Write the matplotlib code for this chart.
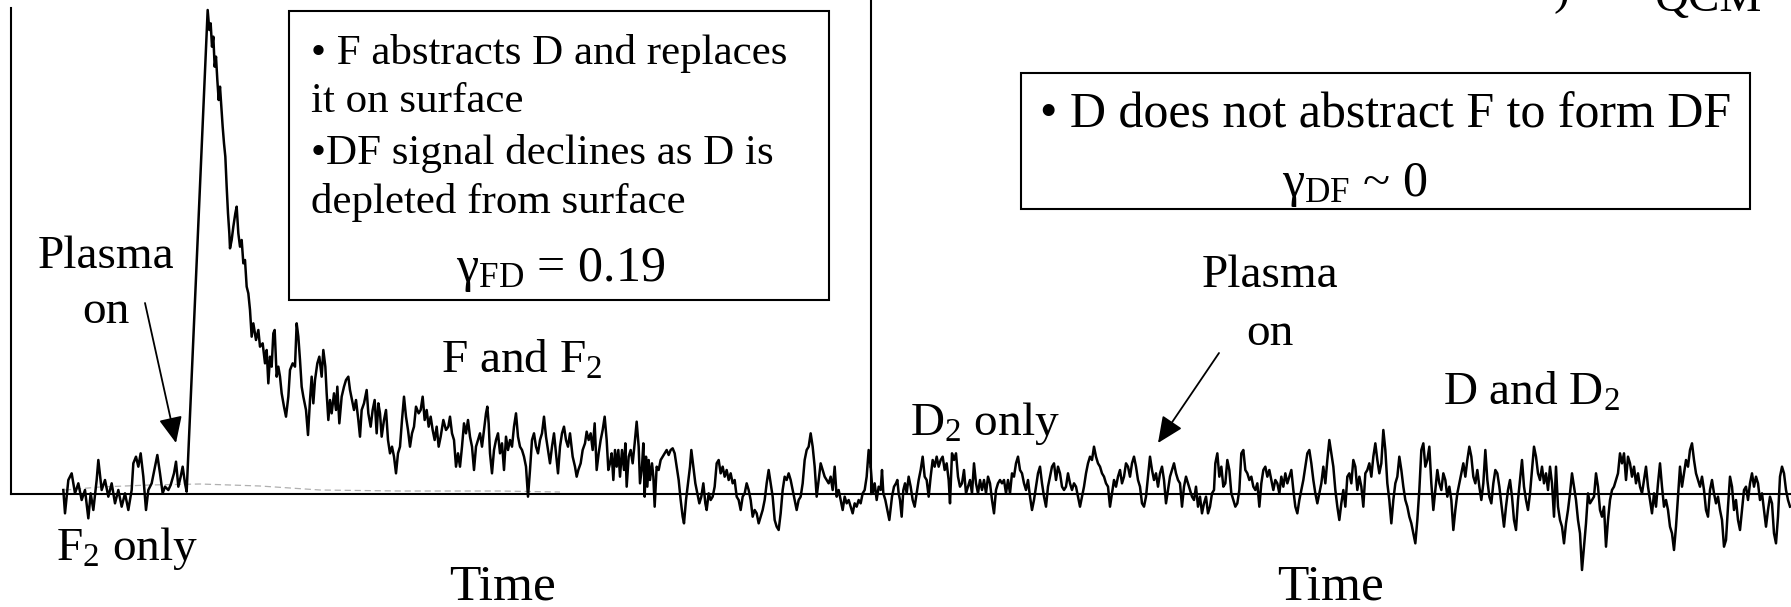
import matplotlib.pyplot as plt
from matplotlib.patches import Rectangle

plt.rcParams['font.family'] = ['Liberation Serif', 'DejaVu Serif']
plt.rcParams['mathtext.fontset'] = 'custom'
plt.rcParams['mathtext.rm'] = 'Liberation Serif'
plt.rcParams['mathtext.it'] = 'Liberation Serif:italic'

W, H = 1791, 607

# DF signal (arbitrary units): F2 only, then plasma on -> F and F2
f_time = [190, 195, 205, 215, 225, 235, 245, 255, 265, 272, 280, 290, 295, 305, 315,
          325, 335, 345, 355, 365, 375, 385, 395, 400, 408, 415, 422, 430, 438, 445,
          455, 465, 472, 480, 488, 495, 505, 512, 522, 528, 535, 542, 548, 555, 560,
          623, 628, 632, 636, 640, 644, 648, 652, 656, 660, 664, 668, 672, 676, 680,
          684, 688, 690, 695, 700, 706, 710, 715, 720, 725, 730, 735, 740, 745, 750,
          755, 760, 768, 775, 780, 788, 795, 800, 805, 810, 815, 820, 824, 830, 835,
          840, 845, 852, 858, 865, 870, 878, 885, 890, 895, 900, 905, 910, 918, 924,
          930, 935, 940, 945, 952, 958, 965, 970, 976, 980, 985, 990, 995, 1002, 1008,
          1012, 1018, 1025, 1032, 1038, 1045, 1050, 1056, 1062, 1068, 1075, 1080, 1085, 1092, 1100,
          1105, 1112, 1118, 1124, 1130, 1135, 1140, 1145, 1152, 1158, 1164, 1170, 1176, 1182, 1188,
          1194, 1200, 1206, 1212, 1218, 1224, 1230, 1236, 1242, 1248, 1256, 1262, 1268, 1274, 1280,
          1286, 1292, 1298, 1304, 1310, 1316, 1322, 1330, 1338, 1345, 1350, 1356, 1362, 1368, 1374,
          1380, 1386, 1392, 1398, 1404, 1410, 1416, 1422, 1428, 1434, 1440, 1446, 1452, 1458, 1462,
          1466, 1470, 1476, 1482, 1488, 1494, 1500, 1506, 1512, 1518, 1524, 1530, 1536, 1542, 1548,
          1554, 1560, 1566, 1572, 1578, 1584, 1590, 1596, 1602, 1608, 1614, 1620, 1626, 1632, 1638,
          1644, 1650, 1656, 1662, 1668, 1674, 1680, 1686, 1692, 1698, 1704, 1710,
          1718, 1725, 1730, 1735, 1742, 1748, 1755, 1760, 1766, 1772, 1778, 1784, 1790, 1796, 1802,
          1808, 1814, 1820, 1825, 1830, 1835, 1840, 1845, 1850, 1855, 1860, 1866, 1872, 1876, 1880,
          1886, 1892, 1898, 1904, 1910, 1916, 1920, 1926, 1930, 1934, 1938, 1942, 1946, 1950, 1956,
          1960, 1964, 1970, 1976, 1982, 1988, 1994, 2000, 2006, 2012, 2018, 2024, 2030, 2036, 2042,
          2048, 2052, 2058, 2064, 2070, 2074, 2080, 2086, 2092, 2098, 2104, 2110, 2116, 2120, 2126,
          2132, 2138, 2144, 2150, 2156, 2162, 2168, 2174, 2180, 2186, 2192, 2198, 2204, 2210, 2216,
          2222, 2228, 2234, 2240, 2246, 2252, 2258, 2264, 2270, 2276, 2282, 2288, 2294, 2300, 2306,
          2312, 2318, 2324, 2330, 2336, 2342, 2348, 2354, 2360, 2366, 2372, 2378, 2384, 2390, 2396,
          2402, 2408, 2414, 2420, 2426, 2432, 2438, 2444, 2450, 2456, 2462, 2468, 2474, 2480, 2486,
          2492, 2498, 2504, 2510, 2516, 2522, 2528, 2534, 2540, 2546, 2552, 2558, 2564, 2570, 2576,
          2582, 2588, 2594, 2600, 2606, 2612]
f_signal = [12, -58, 42, 62, 2, 32, -18, 12, -73, 2, -48, 42, 102, 12, 42,
            -8, 32, -28, 12, -38, 2, -48, 12, 92, 112, 82, 122, 52, -48, 12,
            32, 82, 117, 62, 2, 22, 12, 27, 62, 97, 22, 52, 82, 32, 7,
            1452, 1392, 1412, 1342, 1372, 1282, 1312, 1242, 1182, 1222, 1162, 1102, 1052, 1012, 922,
            842, 782, 737, 762, 802, 842, 862, 782, 742, 762, 692, 702, 622, 602, 552,
            472, 512, 462, 492, 442, 452, 392, 432, 332, 412, 382, 482, 492, 352, 382,
            352, 302, 262, 232, 292, 372, 392, 382, 512, 472, 402, 322, 292, 252, 177,
            282, 352, 272, 342, 392, 412, 352, 432, 382, 302, 222, 282, 242, 302, 252,
            322, 212, 292, 322, 342, 352, 312, 282, 252, 282, 222, 172, 252, 272, 312,
            242, 202, 252, 282, 182, 272, 242, 172, 222, 252, 162, 122, 142, 112, 62,
            122, 142, 222, 292, 232, 192, 142, 182, 202, 262, 242, 252, 292, 222, 252,
            202, 232, 192, 162, 202, 142, 172, 222, 192, 202, 232, 182, 162, 82, 122,
            82, 142, 212, 182, 222, 172, 142, 72, 142, 162, 182, 142, 192, 242, 262,
            212, 122, 62, 132, 162, 182, 122, 152, 72, 172, 132, 162, 142, 202, 242,
            172, 142, 132, 112, 82, -8, 72, 162, 182, 142, 122, 162, 182, 232, 172,
            132, 92, 142, 182, 122, 62, 142, 182, 202, 162, 142, 182,
            112, 82, 52, 72, 92, 132, 152, 187, 162, 182, 132, 212, 72, 122, 162,
            192, 232, 162, 72, 92, 122, 42, 132, 82, 132, 52, 132, 72, 152, 22,
            112, 132, 92, 152, 217, 142, 32, 82, 152, -8, 112, 22, 102, 42, 92,
            52, -38, 82, 72, 102, 112, 122, 132, 117, 132, 137, 122, 82, 42, -18,
            -68, -88, -18, 32, 82, 132, 82, 32, 2, -28, -8, 32, -28, -48, 2,
            -18, -8, 22, 92, 102, 62, 82, 52, 72, 42, 62, 32, 42, -8, -18,
            -48, -8, 2, 32, 12, -18, -68, -48, -58, -88, -68, -48, -18, 32, 72,
            32, -8, -78, -98, -108, -58, 12, 52, 42, 62, 42, 12, -18, -48, -18,
            -8, 32, 102, 132, 142, 182, 142, 82, -8, 42, 92, 72, 52, 42, 32,
            52, 12, 82, -8, 12, -18, -48, -8, -28, -18, -38, -58, -28, -38, -18,
            -28, 2, 12, 52, 132, 82]

# D2 only, then plasma on -> D and D2
d_time = [2618, 2624, 2630, 2636, 2642, 2646, 2650, 2656, 2662, 2668,
          2676, 2682, 2688, 2692, 2696, 2700, 2705, 2710, 2715, 2720, 2726, 2732, 2738, 2744, 2750,
          2756, 2762, 2768, 2774, 2780, 2786, 2792, 2798, 2804, 2810, 2816, 2822, 2828, 2834, 2840,
          2846, 2850, 2856, 2862, 2868, 2874, 2880, 2886, 2892, 2898, 2904, 2910, 2916, 2922, 2928,
          2934, 2940, 2946, 2952, 2958, 2964, 2970, 2976, 2982, 2988, 2994, 3000, 3006, 3012, 3018,
          3024, 3030, 3036, 3042, 3048, 3054, 3060, 3066, 3072, 3078, 3084, 3090, 3096, 3102, 3108,
          3114, 3120, 3126, 3132, 3138, 3144, 3150, 3156, 3162, 3168, 3174, 3180, 3186, 3192, 3198,
          3204, 3210, 3216, 3222, 3228, 3234, 3240, 3246, 3252, 3258, 3264, 3270, 3276, 3282, 3288,
          3294, 3300, 3306, 3312, 3318, 3324, 3330, 3336, 3342, 3348, 3354, 3360, 3366, 3372, 3378,
          3384, 3390, 3396, 3402, 3408, 3414, 3420, 3426, 3432, 3438, 3444, 3450, 3456, 3462, 3468,
          3474, 3480, 3486, 3492, 3498, 3504, 3510, 3516, 3522, 3528, 3534, 3540, 3546, 3552, 3558,
          3564, 3570, 3576, 3582, 3588, 3594, 3600, 3606, 3612, 3618, 3624, 3630,
          3636, 3642, 3646, 3652, 3658, 3664, 3670, 3676, 3682, 3688, 3694, 3700, 3706, 3712, 3718,
          3724, 3730, 3736, 3742, 3748, 3754, 3760, 3766, 3772, 3778, 3784, 3790, 3796, 3802, 3808,
          3814, 3820, 3826, 3832, 3838, 3844, 3850, 3856, 3862, 3868, 3874, 3880, 3886, 3892, 3898,
          3904, 3910, 3916, 3922, 3928, 3934, 3940, 3946, 3952, 3958, 3964, 3970, 3976, 3982, 3988,
          3994, 4000, 4006, 4012, 4018, 4024, 4030, 4036, 4042, 4048, 4054, 4060, 4066, 4072, 4078,
          4084, 4090, 4096, 4102, 4108, 4114, 4120, 4126, 4132, 4138, 4144, 4150, 4156, 4162, 4168,
          4174, 4180, 4186, 4192, 4198, 4204, 4210, 4216, 4222, 4228, 4234, 4240, 4246, 4252, 4258,
          4264, 4270, 4276, 4282, 4288, 4294, 4300, 4306, 4312, 4318, 4324, 4330, 4336, 4342, 4348,
          4354, 4360, 4366, 4372, 4378, 4384, 4390, 4396, 4402, 4408, 4414, 4420, 4426, 4432, 4438,
          4444, 4450, 4456, 4462, 4468, 4474, 4480, 4486, 4492, 4498,
          4506, 4512, 4518, 4524, 4530, 4536, 4542, 4548, 4554, 4560, 4566, 4572, 4578, 4584, 4590,
          4596, 4602, 4608, 4614, 4620, 4626, 4632, 4638, 4644, 4650, 4656, 4662, 4668, 4674, 4680,
          4686, 4692, 4698, 4704, 4710, 4716, 4722, 4728, 4734, 4740, 4746, 4752, 4758, 4764, 4770,
          4776, 4782, 4788, 4794, 4800, 4806, 4812, 4818, 4824, 4830, 4836, 4842, 4848, 4854, 4860,
          4866, 4872, 4878, 4884, 4890, 4896, 4902, 4908, 4914, 4920, 4926, 4932, 4938, 4944, 4950,
          4956, 4962, 4968, 4974, 4980, 4986, 4992, 4998, 5004, 5010, 5016, 5022, 5028, 5034, 5040,
          5046, 5052, 5058, 5064, 5070, 5076, 5082, 5088, 5094, 5100, 5106, 5112, 5118, 5124, 5130,
          5136, 5142, 5148, 5154, 5160, 5166, 5172, 5178, 5184, 5190, 5196, 5202, 5208, 5214, 5220,
          5226, 5232, 5238, 5244, 5250, 5256, 5262, 5268, 5274, 5280, 5286, 5292, 5298, 5304, 5310,
          5316, 5322, 5328, 5334, 5340, 5346, 5352, 5358, 5364, 5370]
d_signal = [2, 32, -18, 22, 12, 72, 2, -18, -48, -78,
            -8, 22, 32, 42, 2, -18, -68, 12, 32, 2, 52, 22, -18, -38, 2,
            42, 72, 112, 52, 42, -8, 52, 102, 82, 112, 82, 102, 112, 72, 92,
            42, -28, 122, 102, 122, 52, 22, 32, 72, 2, 22, 42, 2, 92, 32,
            2, 42, 12, 42, 2, 52, 32, -18, -58, 12, 32, 42, 32, 42, 2,
            42, 2, 62, 52, 92, 112, 72, 62, 32, 12, 42, -8, -48, -18, 22,
            62, 82, 32, -8, -38, 22, 52, 82, 92, 42, 82, 62, 22, 12, 22,
            62, 32, 12, 32, 22, -8, -38, -8, 22, 62, 92, 112, 102, 142, 112,
            92, 82, 62, 52, 32, 22, -38, 2, 42, 22, 52, 72, 32, 52, 92,
            82, 52, 92, 112, 82, 42, 22, -28, -38, -8, 52, 112, 72, 42, 62,
            22, 62, 82, 42, -28, 12, 52, 72, 92, 62, 42, 32, -38, 22, 52,
            32, 12, -8, -18, 22, -38, -8, -58, -28, -8, -58, -38,
            2, 12, 92, 122, 52, 82, 22, 32, 102, 72, 2, -18, -38, -28, 12,
            122, 132, 72, 62, 42, 52, 22, 12, 32, -38, 32, 72, 82, 52, 72,
            42, 12, 42, 32, 2, 52, 22, 62, 32, 52, 72, 12, -38, -58, -18,
            12, 42, 82, 122, 132, 92, 42, 2, -28, 2, 32, 82, 32, 102, 162,
            122, 82, 12, -38, -78, -28, 12, -38, 52, 62, 32, 102, 82, 12, 52,
            22, -38, 62, 72, 92, 52, 112, 152, 102, 62, 92, 192, 132, 32, -18,
            -88, -18, 32, 52, 112, 72, 22, -18, -38, -68, -88, -118, -148, -78, 12,
            132, 152, 82, 102, 142, 32, -48, 12, 72, 32, 12, 62, 42, -8, 22,
            -18, -108, -48, 2, 32, 62, 92, 52, 102, 142, 112, 52, 32, 72, 22,
            -18, 32, 132, 42, -8, -28, 32, 72, 62, 22,
            -48, -98, -38, 12, 42, -8, -78, -108, -18, 42, 102, 22, -18, -48, 2,
            72, 142, 112, 62, 42, 82, 32, 62, 12, 82, 32, -68, 82, -38, -78,
            -98, -148, -88, -48, 2, 62, 22, -18, -78, -118, -228, -158, -88, 2, -28,
            -18, -8, 62, 22, -48, -68, -38, -158, -78, -18, 12, 22, 42, 62, 122,
            92, 122, 42, 112, 92, 52, 82, 32, 62, 22, 2, 42, 82, 22, -18,
            -58, 2, -38, 32, 92, 22, -38, -18, -48, -98, -118, -168, -98, -8, 82,
            22, 62, 102, 82, 132, 152, 102, 62, 42, 22, 52, 12, -48, -68, 12,
            42, 2, -28, -8, -48, -78, -158, -138, -38, 52, 22, -48, -18, -78, -108,
            -48, 12, 22, -18, 32, 62, 22, 52, 32, -18, 2, -48, -98, -48, -8,
            -28, -118, -148, -68, 52, 82, 62, 12, -18, -38]

# faint grey trace lying just above the baseline in the F run
bg_time = [195, 300, 450, 600, 780, 960, 1200, 1500, 1680]
bg_signal = [12, 21, 27, 30, 24, 12, 9, 9, 6]

fig = plt.figure(figsize=(W / 100, H / 100), dpi=100)
fig.patch.set_facecolor('white')


def px_axes(x0, y0, x1, y1):
    # box in figure pixels, y counted from the top
    return fig.add_axes([x0 / W, 1 - y1 / H, (x1 - x0) / W, (y1 - y0) / H])


ax_f = px_axes(11, 0, 871, 494)
ax_d = px_axes(871, 0, 1791, 494)
ax_f.set_xlim(33, 2613)
ax_d.set_xlim(2613, 5373)
for ax in (ax_f, ax_d):
    ax.set_ylim(0, 1482)
    ax.set_xticks([])
    ax.set_yticks([])
    ax.patch.set_visible(False)
    for sp in ax.spines.values():
        sp.set_linewidth(1.5)
    ax.spines['top'].set_visible(False)
ax_f.spines['left'].set_bounds(0, 1458)
ax_d.spines['left'].set_visible(False)
ax_d.spines['right'].set_visible(False)

ax_f.plot(bg_time, bg_signal, color='#b0b0b0', lw=0.9, ls=(0, (5, 3)), clip_on=False)
ax_f.plot(f_time, f_signal, color='black', lw=1.8, clip_on=False)
ax_d.plot([f_time[-1]] + d_time, [f_signal[-1]] + d_signal, color='black', lw=1.8, clip_on=False)

# overlay in pixel coordinates for annotations
ov = fig.add_axes([0, 0, 1, 1])
ov.set_xlim(0, W)
ov.set_ylim(H, 0)
ov.axis('off')
ov.patch.set_visible(False)

ov.add_patch(Rectangle((289, 11), 540, 289, fill=False, ec='black', lw=1.5))
ov.add_patch(Rectangle((1021, 73), 729, 136, fill=False, ec='black', lw=1.5))

box_fs = 31
ov.text(311, 64, '\u2022 F abstracts D and replaces', fontsize=box_fs, va='baseline')
ov.text(311, 112, 'it on surface', fontsize=box_fs, va='baseline')
ov.text(311, 164, '\u2022DF signal declines as D is', fontsize=box_fs, va='baseline')
ov.text(311, 213, 'depleted from surface', fontsize=box_fs, va='baseline')
ov.text(561, 281, '\u03b3$_{\\mathrm{FD}}$ = 0.19', fontsize=36, ha='center', va='baseline')

ov.text(1040, 128, '\u2022 D does not abstract F to form DF', fontsize=36, va='baseline')
ov.text(1355, 196, '\u03b3$_{\\mathrm{DF}}$ ~ 0', fontsize=36, ha='center', va='baseline')

lab_fs = 34
ov.text(106, 268, 'Plasma', fontsize=lab_fs, ha='center', va='baseline')
ov.text(106, 323, 'on', fontsize=lab_fs, ha='center', va='baseline')
ov.text(127, 560, 'F$_2$ only', fontsize=lab_fs, ha='center', va='baseline')
ov.text(441, 373, 'F and F$_2$', fontsize=lab_fs, va='baseline')
ov.text(910, 435, 'D$_2$ only', fontsize=lab_fs, va='baseline')
ov.text(1270, 287, 'Plasma', fontsize=lab_fs, ha='center', va='baseline')
ov.text(1270, 345, 'on', fontsize=lab_fs, ha='center', va='baseline')
ov.text(1443, 405, 'D and D$_2$', fontsize=lab_fs, va='baseline')
ov.text(1708, 11, 'QCM', fontsize=lab_fs, ha='center', va='baseline')
ov.text(1561, 4, ')', fontsize=lab_fs, ha='center', va='baseline')
ov.text(502, 599, 'Time', fontsize=37, ha='center', va='baseline')
ov.text(1331, 599, 'Time', fontsize=37, ha='center', va='baseline')

arrow = dict(arrowstyle='-|>,head_length=0.8,head_width=0.36', mutation_scale=20,
             color='black', lw=1.3, shrinkA=0, shrinkB=0)
ov.annotate('', xy=(176, 443), xytext=(145, 303), arrowprops=arrow)
ov.annotate('', xy=(1158, 443), xytext=(1219, 353), arrowprops=arrow)

fig.savefig('out.png', dpi=100, facecolor='white')
